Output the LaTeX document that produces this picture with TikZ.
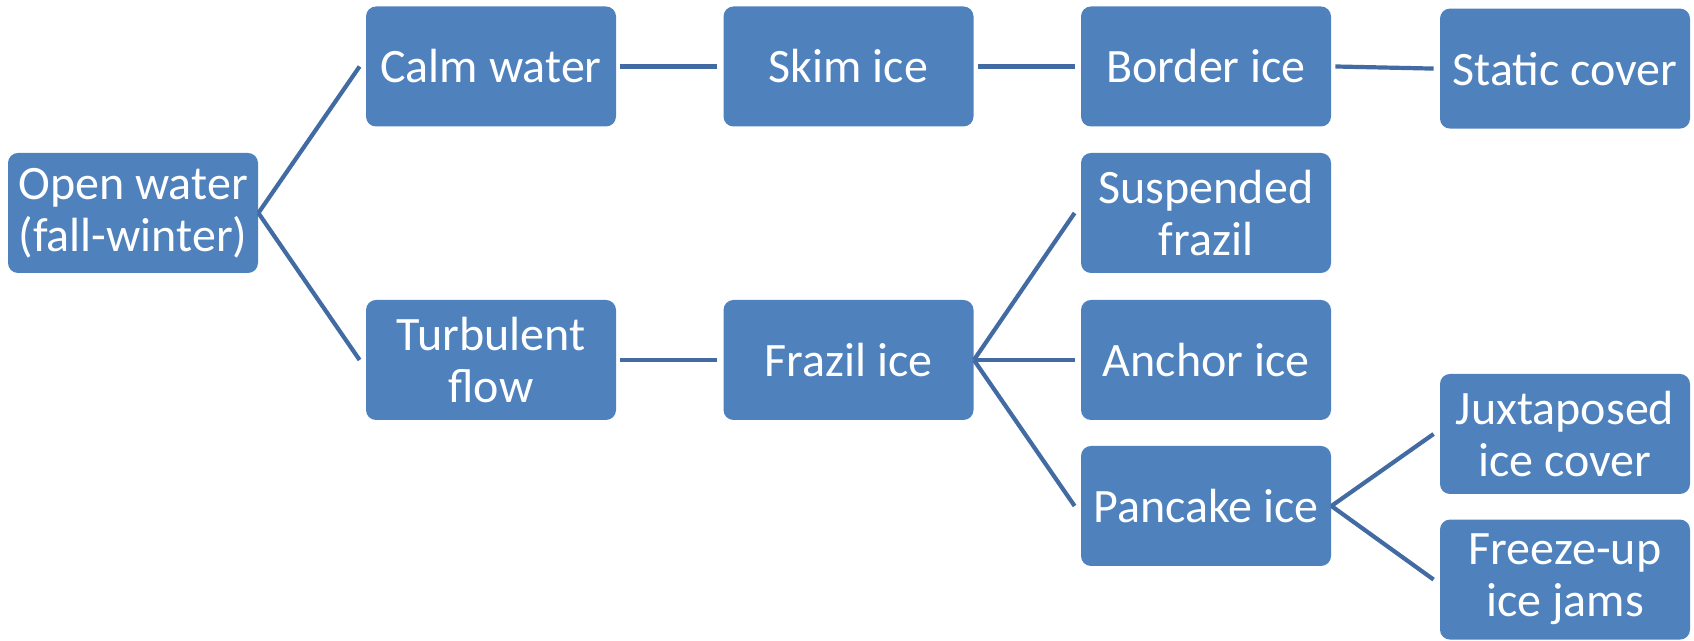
\documentclass[tikz,border=0pt]{standalone}
\usepackage{fontspec}
\setmainfont{Carlito}
\usetikzlibrary{positioning}
\definecolor{boxblue}{RGB}{79,129,189}
\definecolor{linkblue}{RGB}{65,107,162}

\begin{document}
\begin{tikzpicture}[
    x=0.5pt, y=0.5pt,
    stage/.style={rectangle, rounded corners=5pt, fill=boxblue, text=white, minimum width=125pt, minimum height=60pt, align=center, inner sep=2pt, font=\fontsize{24}{26}\selectfont},
    link/.style={line width=2.1pt, linkblue}
]
\useasboundingbox (0,0) rectangle (1694,641);

% === START ===
\node[stage] (open) at (133,428) {Open water\\(fall-winter)};

% === CALM WATER (TOP) ===
\node[stage] (calm) at (491,574.5) {Calm water};
\node[stage] (skim) at (848.5,574.5) {Skim ice};
\node[stage] (border) at (1206,574.5) {Border ice};
\node[stage] (static) at (1565,572.4) {Static cover};

% === TURBULENT FLOW (BOTTOM) ===
\node[stage] (turb) at (491,281) {Turbulent\\flow};
\node[stage] (frazil) at (848.5,281) {Frazil ice};
\node[stage] (susp) at (1206,428) {Suspended\\frazil};
\node[stage] (anchor) at (1206,281) {Anchor ice};
\node[stage] (pancake) at (1206,135) {Pancake ice};
\node[stage] (juxt) at (1565,207) {Juxtaposed\\ice cover};
\node[stage] (jams) at (1565,61.4) {Freeze-up\\ice jams};

% Fans
\draw[link] (open.east) -- ([xshift=-3pt]calm.west);
\draw[link] (open.east) -- ([xshift=-3pt]turb.west);
\draw[link] (frazil.east) -- ([xshift=-3pt]susp.west);
\draw[link] (frazil.east) -- ([xshift=-3pt]anchor.west);
\draw[link] (frazil.east) -- ([xshift=-3pt]pancake.west);
\draw[link] (pancake.east) -- ([xshift=-3pt]juxt.west);
\draw[link] (pancake.east) -- ([xshift=-3pt]jams.west);

% Straight links
\draw[link] ([xshift=2pt]calm.east) -- ([xshift=-3pt]skim.west);
\draw[link] ([xshift=2pt]skim.east) -- ([xshift=-3pt]border.west);
\draw[link] ([xshift=2pt]border.east) -- ([xshift=-3pt]static.west);
\draw[link] ([xshift=2pt]turb.east) -- ([xshift=-3pt]frazil.west);

\end{tikzpicture}
\end{document}
